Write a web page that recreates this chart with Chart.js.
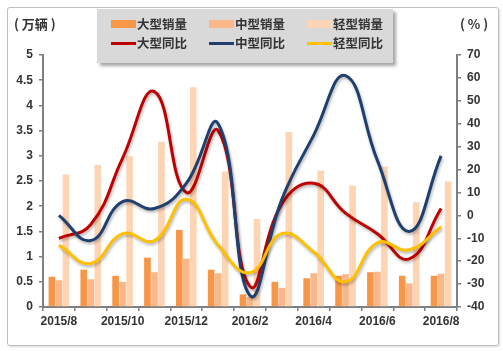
<!DOCTYPE html>
<html>
<head>
<meta charset="UTF-8">
<title>销量与同比</title>
<script src="https://cdn.jsdelivr.net/npm/chart.js"></script>
<style>
  body { margin: 0; background: #fff; }
  #wrap {
    position: relative;
    width: 503px;
    height: 351px;
    font-family: 'Liberation Sans', 'Noto Sans CJK SC', sans-serif;
    font-weight: bold;
    color: #333;
  }
  #frame {
    position: absolute;
    left: 7px; top: 7px;
    width: 490px; height: 337px;
    border: 1px solid #bfbfbf;
    border-radius: 3px;
    box-shadow: 1px 1px 2px rgba(0,0,0,0.15);
  }
  #chart { position: absolute; left: 0; top: 0; }
  .unit { position: absolute; top: 14px; font-size: 13px; font-family: 'Noto Sans CJK SC', sans-serif; }
  #legend {
    position: absolute;
    left: 97px; top: 9px;
    width: 296px; height: 54px;
    background: #d9d9d9;
    box-shadow: 3px 3px 3px rgba(0,0,0,0.35);
  }
  .item { position: absolute; font-size: 12.5px; line-height: 16px; font-family: 'Noto Sans CJK SC', sans-serif; font-weight: bold; }
  .sw { position: absolute; left: -26px; }
</style>
</head>
<body>
<div id="wrap">
  <div id="frame"></div>
  <canvas id="chart" width="503" height="351"></canvas>
  <div class="unit" style="left:14px">( 万辆 )</div>
  <div class="unit" style="left:460px">( % )</div>
  <div id="legend"></div>
</div>

<script>
// 数据
const months = ['2015/8', '2015/9', '2015/10', '2015/11', '2015/12', '2016/1', '2016/2',
                '2016/3', '2016/4', '2016/5', '2016/6', '2016/7', '2016/8'];
const largeSales  = [0.60, 0.74, 0.62, 0.98, 1.53, 0.74, 0.25, 0.50, 0.57, 0.62, 0.69, 0.62, 0.62];
const mediumSales = [0.53, 0.55, 0.50, 0.69, 0.96, 0.67, 0.20, 0.38, 0.67, 0.65, 0.70, 0.47, 0.66];
const lightSales  = [2.63, 2.82, 2.99, 3.28, 4.36, 2.69, 1.75, 3.47, 2.71, 2.41, 2.79, 2.08, 2.49];
const largeYoy  = [-10, -4, 25, 54, 10, 37, -31, 5, 14, 1, -8, -19, 3];
const mediumYoy = [0, -11, 6, 3, 14, 40, -35, 7, 35, 61, 24, -7, 26];
const lightYoy  = [-13, -21, -8, -11, 7, -13, -25, -8, -16, -29, -12, -15, -5];

const tickFont = { family: "'Liberation Sans', sans-serif", size: 12, weight: 'bold' };
const axisColor = '#7f7f7f';

function bar(label, data, color) {
  return { type: 'bar', label: label, data: data, backgroundColor: color,
           yAxisID: 'yL', order: 4, barPercentage: 0.95, categoryPercentage: 0.66 };
}
function line(label, data, color, order) {
  return { type: 'line', label: label, data: data, borderColor: color, backgroundColor: color,
           yAxisID: 'yR', order: order, borderWidth: 3, pointRadius: 0, tension: 0.45, fill: false };
}

// 线条阴影
const shadowPlugin = {
  id: 'shadow',
  beforeDatasetDraw(chart, args) {
    if (chart.data.datasets[args.index].type !== 'line') return;
    const ctx = chart.ctx;
    ctx.save();
    ctx.shadowColor = 'rgba(0,0,0,0.3)';
    ctx.shadowBlur = 3;
    ctx.shadowOffsetX = 1;
    ctx.shadowOffsetY = 2;
  },
  afterDatasetDraw(chart, args) {
    if (chart.data.datasets[args.index].type !== 'line') return;
    chart.ctx.restore();
  }
};

const chart = new Chart(document.getElementById('chart'), {
  data: {
    labels: months,
    datasets: [
      bar('大型销量', largeSales, '#f79646'),
      bar('中型销量', mediumSales, '#fab88a'),
      bar('轻型销量', lightSales, '#fdd5b5'),
      line('大型同比', largeYoy, '#c00000', 3),
      line('中型同比', mediumYoy, '#1f3f6e', 2),
      line('轻型同比', lightYoy, '#ffc000', 1)
    ]
  },
  options: {
    responsive: false,
    animation: false,
    layout: { padding: { top: 55, left: 0, right: 0, bottom: 0 } },
    plugins: { legend: { display: false }, tooltip: { enabled: false } },
    scales: {
      x: {
        offset: true,
        grid: { display: true, drawOnChartArea: false, offset: true, tickLength: 4, color: axisColor, lineWidth: 1.5 },
        border: { display: true, color: axisColor, width: 2 },
        ticks: {
          autoSkip: false, maxRotation: 0, padding: 3, font: tickFont, color: '#333',
          callback: (v, i) => i % 2 === 0 ? months[i] : ''
        },
        afterFit: s => { s.height = 44; }
      },
      yL: {
        position: 'left', min: 0, max: 5,
        grid: { drawOnChartArea: false, tickLength: 4, color: axisColor, lineWidth: 1.5 },
        border: { display: true, color: axisColor, width: 2 },
        ticks: { stepSize: 0.5, padding: 6, font: tickFont, color: '#333', callback: v => String(+v.toFixed(1)) },
        afterFit: s => { s.width = 43; }
      },
      yR: {
        position: 'right', min: -40, max: 70,
        grid: { drawOnChartArea: false, tickLength: 4, color: axisColor, lineWidth: 1.5 },
        border: { display: true, color: axisColor, width: 2 },
        ticks: { stepSize: 10, padding: 6, font: tickFont, color: '#333' },
        afterFit: s => { s.width = 46; }
      }
    }
  },
  plugins: [shadowPlugin]
});

// 图例
const legend = document.getElementById('legend');
const colX = [40, 138, 236];
const rowY = [15, 34];
chart.data.datasets.forEach((ds, i) => {
  const item = document.createElement('div');
  item.className = 'item';
  item.style.left = colX[i % 3] + 'px';
  item.style.top = (rowY[Math.floor(i / 3)] - 8) + 'px';
  const sw = document.createElement('span');
  sw.className = 'sw';
  if (ds.type === 'bar') {
    sw.style.cssText += 'top:4px;width:25px;height:8px;background:' + ds.backgroundColor;
  } else {
    sw.style.cssText += 'top:7px;width:25px;height:3px;background:' + ds.borderColor;
  }
  item.appendChild(sw);
  item.appendChild(document.createTextNode(ds.label));
  legend.appendChild(item);
});
</script>
</body>
</html>
